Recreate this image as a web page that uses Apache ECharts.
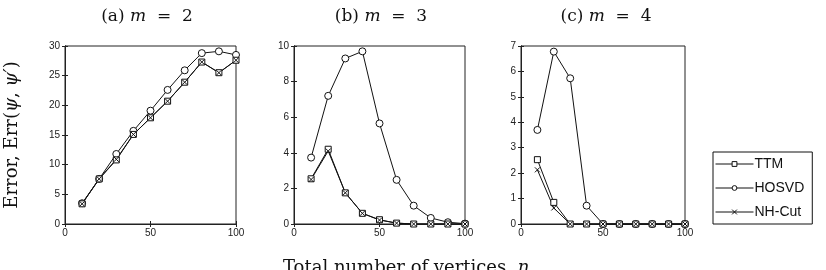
<!DOCTYPE html>
<html>
<head>
<meta charset="utf-8">
<script src="https://cdn.jsdelivr.net/npm/echarts@6/dist/echarts.min.js"></script>
<style>
  html, body { margin: 0; padding: 0; background: #fff; }
  #chart { width: 826px; height: 270px; }
</style>
</head>
<body>
<div id="chart"></div>
<script>
// x values shared by all panels
const vertices = [10, 20, 30, 40, 50, 60, 70, 80, 90, 100]

// (a) m = 2
const ttmA   = [3.4, 7.6, 10.8, 15.1, 17.9, 20.7, 23.9, 27.3, 25.5, 27.6]
const hosvdA = [3.5, 7.6, 11.8, 15.7, 19.1, 22.6, 25.9, 28.8, 29.1, 28.5]
const nhA    = [3.4, 7.6, 10.9, 15.1, 17.9, 20.7, 23.9, 27.3, 25.5, 27.6]

// (b) m = 3
const ttmB   = [2.54, 4.2, 1.75, 0.6, 0.24, 0.05, 0, 0, 0, 0]
const hosvdB = [3.73, 7.2, 9.3, 9.7, 5.65, 2.48, 1.03, 0.34, 0.1, 0.02]
const nhB    = [2.5, 4.1, 1.75, 0.6, 0.22, 0.05, 0, 0, 0, 0]

// (c) m = 4
const ttmC   = [2.53, 0.85, 0, 0, 0, 0, 0, 0, 0, 0]
const hosvdC = [3.7, 6.78, 5.73, 0.72, 0, 0, 0, 0, 0, 0]
const nhC    = [2.13, 0.63, 0, 0, 0, 0, 0, 0, 0, 0]

const panelTitles = ['(a) {i|m} = 2', '(b) {i|m} = 3', '(c) {i|m} = 4']
const yMax = [30, 10, 7]
const yStep = [5, 2, 1]

const chart = echarts.init(document.getElementById('chart'))

const grids = [
  { left: 65, top: 46, width: 171, height: 178 },
  { left: 294, top: 46, width: 171, height: 178 },
  { left: 521, top: 46, width: 164, height: 178 }
]
const titleCenters = [142, 376, 601]

const crossPath = 'path://M0,0L10,10M10,0L0,10'
const markers = {
  TTM: { symbol: 'rect', symbolSize: 6 },
  HOSVD: { symbol: 'circle', symbolSize: 7 },
  'NH-Cut': { symbol: crossPath, symbolSize: 5 }
}

const pair = arr => arr.map((v, i) => [vertices[i], v])

const tickFont = { fontFamily: 'Liberation Sans', fontSize: 10, color: '#222' }

const xAxis = []
const yAxis = []
grids.forEach((g, i) => {
  xAxis.push({
    type: 'value', gridIndex: i, min: 0, max: 100, interval: 50,
    axisLine: { lineStyle: { color: '#222' } },
    axisTick: { inside: true, length: 3, lineStyle: { color: '#222' } },
    axisLabel: Object.assign({ margin: 4 }, tickFont),
    splitLine: { show: false }
  })
  xAxis.push({
    type: 'value', gridIndex: i, min: 0, max: 100, interval: 50, position: 'top',
    axisLine: { lineStyle: { color: '#222' } },
    axisTick: { inside: true, length: 3, lineStyle: { color: '#222' } },
    axisLabel: { show: false },
    splitLine: { show: false }
  })
  yAxis.push({
    type: 'value', gridIndex: i, min: 0, max: yMax[i], interval: yStep[i],
    axisLine: { show: true, lineStyle: { color: '#222' } },
    axisTick: { show: true, inside: true, length: 3, lineStyle: { color: '#222' } },
    axisLabel: Object.assign({ margin: 5 }, tickFont),
    splitLine: { show: false }
  })
  yAxis.push({
    type: 'value', gridIndex: i, min: 0, max: yMax[i], interval: yStep[i], position: 'right',
    axisLine: { show: true, lineStyle: { color: '#222' } },
    axisTick: { show: true, inside: true, length: 3, lineStyle: { color: '#222' } },
    axisLabel: { show: false },
    splitLine: { show: false }
  })
})

const panelData = [
  { TTM: ttmA, HOSVD: hosvdA, 'NH-Cut': nhA },
  { TTM: ttmB, HOSVD: hosvdB, 'NH-Cut': nhB },
  { TTM: ttmC, HOSVD: hosvdC, 'NH-Cut': nhC }
]

const series = []
panelData.forEach((p, i) => {
  // HOSVD drawn first so TTM / NH-Cut sit on top like the original
  ;['HOSVD', 'TTM', 'NH-Cut'].forEach(name => {
    series.push({
      name,
      type: 'line',
      xAxisIndex: i * 2,
      yAxisIndex: i * 2,
      data: pair(p[name]),
      symbol: markers[name].symbol,
      symbolSize: markers[name].symbolSize,
      showAllSymbol: true,
      lineStyle: { color: '#111', width: 1 },
      itemStyle: {
        color: name === 'NH-Cut' ? '#111' : '#fff',
        borderColor: '#111',
        borderWidth: 1
      },
      emphasis: { disabled: true },
      animation: false
    })
  })
})

const serifRich = {
  i: { fontFamily: 'DejaVu Serif', fontStyle: 'italic', fontSize: 17, fill: '#111', color: '#111' }
}

const option = {
  animation: false,
  title: panelTitles.map((t, i) => ({
    text: t.replace(' = ', '  =  '),
    left: titleCenters[i],
    top: 3,
    textAlign: 'center',
    textStyle: {
      fontFamily: 'DejaVu Serif',
      fontSize: 17,
      fontWeight: 'normal',
      color: '#111',
      rich: serifRich
    }
  })),
  grid: grids.map(g => Object.assign({ show: true, borderColor: '#222', borderWidth: 1, containLabel: false }, g)),
  xAxis,
  yAxis,
  legend: {
    data: ['TTM', 'HOSVD', 'NH-Cut'],
    orient: 'vertical',
    left: 713,
    top: 152,
    itemWidth: 38,
    itemHeight: 6,
    itemGap: 10,
    padding: [5, 8, 5, 2],
    borderColor: '#111',
    borderWidth: 1,
    selectedMode: false,
    lineStyle: { width: 1 },
    itemStyle: { borderWidth: 1 },
    textStyle: { fontFamily: 'Liberation Sans', fontSize: 14, color: '#111', padding: [0, 0, 0, -4] }
  },
  graphic: [
    {
      type: 'text',
      left: 3,
      top: 'middle',
      rotation: Math.PI / 2,
      style: {
        text: 'Error, Err({i|\u03c8}, {i|\u03c8\u2032})',
        font: '18px "DejaVu Serif"',
        fill: '#111',
        rich: { i: { font: 'italic 18px "DejaVu Serif"', fill: '#111' } }
      }
    },
    {
      type: 'text',
      left: 283,
      top: 259,
      style: {
        text: 'Total number of vertices, {i|n}',
        font: '18px "DejaVu Serif"',
        fill: '#111',
        rich: { i: { font: 'italic 18px "DejaVu Serif"', fill: '#111' } }
      }
    }
  ],
  series
}

chart.setOption(option)
</script>
</body>
</html>
